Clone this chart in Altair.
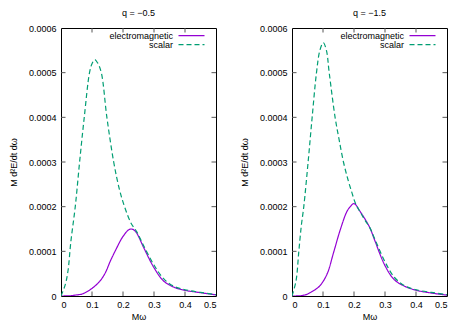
import altair as alt
import pandas as pd

# ---- data ----
x_ticks = [0, 0.1, 0.2, 0.3, 0.4, 0.5]
y_ticks = [0, 0.0001, 0.0002, 0.0003, 0.0004, 0.0005, 0.0006]
series_names = ["electromagnetic", "scalar"]

# q = -0.5
em1_x = [0, 0.025, 0.046, 0.07, 0.1, 0.125, 0.143, 0.159, 0.18, 0.195, 0.207, 0.218, 0.226, 0.235, 0.245,
         0.267, 0.3, 0.331, 0.363, 0.4, 0.45, 0.5]
em1_y = [0, 0.0000004, 0.000002, 0.000005, 0.000017, 0.000033, 0.000052, 0.000078, 0.000108, 0.000128,
         0.00014, 0.000148, 0.00015, 0.000148, 0.00014, 0.000108, 0.0000633, 0.0000336, 0.00002,
         0.0000127, 0.0000074, 0.0000025]
sc1_x = [0, 0.014, 0.0225, 0.032, 0.046, 0.060, 0.075, 0.092, 0.100, 0.109, 0.118, 0.130, 0.148, 0.170,
         0.188, 0.205, 0.226, 0.245, 0.267, 0.300, 0.331, 0.363, 0.400, 0.450, 0.500]
sc1_y = [0, 0.000026, 0.000056, 0.000123, 0.0002, 0.0003, 0.0004, 0.0005, 0.00052, 0.000529, 0.000522,
         0.0005, 0.0004, 0.0003, 0.00024, 0.0002, 0.000163, 0.000143, 0.000112, 0.0000693, 0.0000388,
         0.000022, 0.000014, 0.000008, 0.000003]

# q = -1.5
em2_x = [0, 0.025, 0.045, 0.065, 0.0886, 0.1127, 0.134, 0.156, 0.177, 0.188, 0.2, 0.219, 0.251, 0.265,
         0.3, 0.33, 0.363, 0.4, 0.45, 0.5]
em2_y = [0, 0.0000005, 0.000003, 0.00001, 0.000022, 0.0000485, 0.000097, 0.000149, 0.000189, 0.0002,
         0.000207, 0.00019, 0.000153, 0.000128, 0.000068, 0.0000365, 0.000022, 0.000013, 0.0000066, 0.000002]
sc2_x = [0, 0.013, 0.022, 0.030, 0.038, 0.052, 0.065, 0.079, 0.090, 0.101, 0.111, 0.120, 0.139, 0.152,
         0.166, 0.180, 0.193, 0.205, 0.220, 0.235, 0.251, 0.265, 0.300, 0.330, 0.363, 0.400, 0.450, 0.500]
sc2_y = [0, 0.000034, 0.0001, 0.000157, 0.0002, 0.0003, 0.0004, 0.0005, 0.00055, 0.000567, 0.00055,
         0.0005, 0.0004, 0.00035, 0.0003, 0.000262, 0.000232, 0.000207, 0.000188, 0.00017, 0.000153,
         0.000131, 0.0000766, 0.000042, 0.000023, 0.000014, 0.000008, 0.000003]

# ---- styling ----
W, H = 155, 268
FONT = "Liberation Sans"
EM_COLOR = "#9400D3"
SC_COLOR = "#009E73"
TICK_COLOR = "#555555"
TL = 4.5


def panel(title, em_x, em_y, sc_x, sc_y):
    df = pd.DataFrame({
        "w": em_x + sc_x,
        "p": em_y + sc_y,
        "series": [series_names[0]] * len(em_x) + [series_names[1]] * len(sc_x),
    })
    xs = alt.Scale(domain=[0, 0.5], nice=False, zero=False)
    ys = alt.Scale(domain=[0, 0.0006], nice=False)
    xaxis = alt.Axis(title="Mω", values=x_ticks, format="~g", ticks=False, domain=False, grid=False,
                     labelPadding=4, titlePadding=3, labelFont=FONT, titleFont=FONT,
                     labelFontSize=9, titleFontSize=9, titleFontWeight="normal",
                     labelColor="black", titleColor="black")
    yaxis = alt.Axis(title="M d²E/dt dω", values=y_ticks, format="~g", ticks=False, domain=False, grid=False,
                     labelPadding=5, titlePadding=10, labelFont=FONT, titleFont=FONT,
                     labelFontSize=9, titleFontSize=9, titleFontWeight="normal",
                     labelColor="black", titleColor="black")

    def X(field="w"):
        return alt.X(f"{field}:Q", scale=xs, axis=xaxis)

    def Y(field="p"):
        return alt.Y(f"{field}:Q", scale=ys, axis=yaxis)

    lines = alt.Chart(df).mark_line(interpolate="catmull-rom", strokeWidth=1.2, clip=True).encode(
        x=X(), y=Y(),
        color=alt.Color("series:N", scale=alt.Scale(domain=series_names, range=[EM_COLOR, SC_COLOR]), legend=None),
        strokeDash=alt.StrokeDash("series:N", scale=alt.Scale(domain=series_names, range=[[1, 0], [5, 3]]), legend=None),
    )

    xt = pd.DataFrame({"w": x_ticks[1:-1]})
    yt = pd.DataFrame({"p": y_ticks[1:-1]})
    tb = alt.Chart(xt).mark_rule(color=TICK_COLOR, strokeWidth=1).encode(x=X(), y=alt.value(H), y2=alt.value(H - TL))
    tt = alt.Chart(xt).mark_rule(color=TICK_COLOR, strokeWidth=1).encode(x=X(), y=alt.value(0), y2=alt.value(TL))
    tl = alt.Chart(yt).mark_rule(color=TICK_COLOR, strokeWidth=1).encode(y=Y(), x=alt.value(0), x2=alt.value(TL))
    tr = alt.Chart(yt).mark_rule(color=TICK_COLOR, strokeWidth=1).encode(y=Y(), x=alt.value(W), x2=alt.value(W - TL))

    leg_y = [7.7, 16.7]
    legend_layers = []
    for name, color, dash, ly in zip(series_names, [EM_COLOR, SC_COLOR], [[1, 0], [5, 3]], leg_y):
        ldf = pd.DataFrame({"label": [name]})
        legend_layers.append(
            alt.Chart(ldf).mark_text(align="right", baseline="middle", font=FONT, fontSize=9, color="black").encode(
                text="label:N", x=alt.value(W - 43), y=alt.value(ly))
        )
        legend_layers.append(
            alt.Chart(ldf).mark_rule(color=color, strokeWidth=1.2, strokeDash=dash).encode(
                x=alt.value(W - 37.5), x2=alt.value(W - 11.5), y=alt.value(ly))
        )

    return alt.layer(lines, tb, tt, tl, tr, *legend_layers).properties(
        width=W, height=H,
        title=alt.TitleParams(title, font=FONT, fontSize=9, fontWeight="normal", color="black",
                              anchor="middle", offset=6),
    )


p1 = panel("q = −0.5", em1_x, em1_y, sc1_x, sc1_y)
p2 = panel("q = −1.5", em2_x, em2_y, sc2_x, sc2_y)

chart = alt.hconcat(p1, p2, spacing=22).properties(
    padding={"left": 0, "top": 0, "right": 5, "bottom": 0}
).configure_view(stroke="black", strokeWidth=1)

chart.save("out.html", embed_options={"renderer": "svg", "actions": False})
